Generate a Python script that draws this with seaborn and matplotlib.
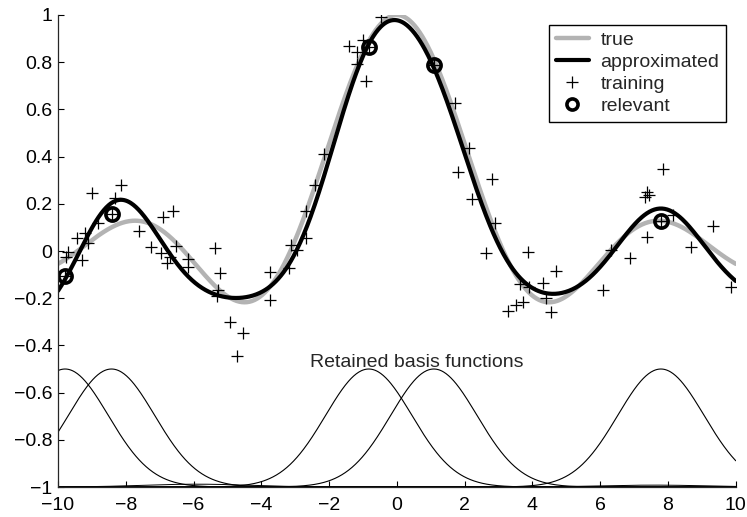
"""
RVM sinc regression - true vs approximated function, with retained basis functions
"""

import numpy as np
import pandas as pd
import matplotlib
matplotlib.use("Agg")
import matplotlib.pyplot as plt
from matplotlib.lines import Line2D
from matplotlib.ticker import FuncFormatter
import seaborn as sns

sns.set_style("ticks")
plt.rcParams.update({
    "font.family": ["Liberation Sans", "DejaVu Sans"],
    "font.size": 14,
    "xtick.direction": "in",
    "ytick.direction": "in",
    "xtick.major.size": 4,
    "ytick.major.size": 4,
    "xtick.major.pad": 7,
    "ytick.major.pad": 4,
    "axes.linewidth": 0.9,
})

# ── Training data ───────────────────────────────────────────
train_x = [-9.79, -9.76, -9.70, -9.45, -9.30, -9.20, -9.12, -9.01, -8.83, -8.42,
           -8.32, -8.15, -7.60, -7.26, -6.96, -6.89, -6.79, -6.70, -6.60, -6.53,
           -6.17, -6.17, -5.37, -5.32, -5.27, -5.22, -4.91, -4.71, -4.55, -3.75,
           -3.75, -3.18, -3.11, -2.94, -2.68, -2.68, -2.42, -2.15, -1.41, -1.17,
           -1.17, -1.01, -0.91, -0.83, -0.48, 1.09, 1.71, 1.81, 2.13, 2.23,
           2.63, 2.81, 2.89, 3.28, 3.51, 3.63, 3.73, 3.86, 3.90, 4.32,
           4.40, 4.56, 4.69, 6.09, 6.33, 6.87, 7.32, 7.38, 7.39, 7.44,
           7.79, 7.86, 8.15, 8.67, 9.33, 9.87]
train_y = [-0.106, -0.027, -0.003, 0.054, -0.038, 0.075, 0.035, 0.247, 0.117, 0.155,
           0.223, 0.280, 0.086, 0.016, -0.007, 0.145, -0.050, -0.027, 0.171, 0.021,
           -0.035, -0.066, 0.011, -0.190, -0.165, -0.095, -0.300, -0.443, -0.349, -0.088,
           -0.208, -0.073, 0.025, 0.004, 0.054, 0.170, 0.280, 0.411, 0.869, 0.792,
           0.845, 0.894, 0.720, 0.866, 0.993, 0.788, 0.628, 0.333, 0.435, 0.219,
           -0.010, 0.305, 0.120, -0.253, -0.229, -0.140, -0.217, -0.006, -0.154, -0.137,
           -0.200, -0.257, -0.085, -0.165, 0.005, -0.029, 0.230, 0.251, 0.061, 0.237,
           0.128, 0.346, 0.153, 0.018, 0.106, -0.151]

# ── Relevance vectors and model parameters ───────────────────
rv_x = [-9.79, -8.42, -0.83, 1.09, 7.79]
rv_y = [-0.106, 0.155, 0.866, 0.788, 0.128]
rv_w = [-0.204, 0.533, 0.862, 0.714, 0.395]
bias = -0.215
kernel_r2 = 3.25

# faint, almost flat basis functions near the bottom
faint_c = [-5.9, 7.6]
faint_a = [0.012, 0.008]
faint_r2 = [5.0, 5.0]

y_ticks = [-1, -0.8, -0.6, -0.4, -0.2, 0, 0.2, 0.4, 0.6, 0.8, 1]
x_ticks = [-10, -8, -6, -4, -2, 0, 2, 4, 6, 8, 10]

GRAY = "#b3b3b3"

xs = np.linspace(-10, 10, 801)


def kernel(x, c, r2):
    return np.exp(-(x - c) ** 2 / r2)


true_y = np.sinc(xs / np.pi)
approx_y = bias + sum(w * kernel(xs, c, kernel_r2) for w, c in zip(rv_w, rv_x))
curves = pd.DataFrame({"x": xs, "true": true_y, "approx": approx_y})

fig = plt.figure(figsize=(7.47, 5.17), dpi=100)
ax = fig.add_axes([0.0776, 0.058, 0.9074, 0.913])

# basis functions
for c in rv_x:
    sns.lineplot(x=xs, y=-1 + 0.5 * kernel(xs, c, kernel_r2), ax=ax,
                 color="black", linewidth=0.8)
for c, a, r2 in zip(faint_c, faint_a, faint_r2):
    sns.lineplot(x=xs, y=-1 + a * kernel(xs, c, r2), ax=ax,
                 color="black", linewidth=0.7)

sns.lineplot(data=curves, x="x", y="true", ax=ax, color=GRAY, linewidth=3.2)
sns.lineplot(data=curves, x="x", y="approx", ax=ax, color="black", linewidth=3.0)

ax.plot(train_x, train_y, linestyle="none", marker="+", color="black",
        markersize=9, markeredgewidth=0.9)
ax.plot(rv_x, rv_y, linestyle="none", marker="o", markerfacecolor="none",
        markeredgecolor="black", markersize=9.5, markeredgewidth=2.6)

ax.text(0.6, -0.49, "Retained basis functions", ha="center", va="baseline",
        fontsize=14)

ax.set_xlim(-10, 10)
ax.set_ylim(-1, 1)
ax.set_xticks(x_ticks)
ax.set_yticks(y_ticks)
fmt = FuncFormatter(lambda v, p: f"{v + 0.0:g}".replace("-", "\u2212") if abs(v) > 1e-9 else "0")
ax.xaxis.set_major_formatter(fmt)
ax.yaxis.set_major_formatter(fmt)
ax.set_xlabel("")
ax.set_ylabel("")
ax.tick_params(labelsize=14, colors="black")
sns.despine(ax=ax)

handles = [
    Line2D([], [], color=GRAY, linewidth=3.2),
    Line2D([], [], color="black", linewidth=3.0),
    Line2D([], [], linestyle="none", marker="+", color="black",
           markersize=9, markeredgewidth=0.9),
    Line2D([], [], linestyle="none", marker="o", markerfacecolor="none",
           markeredgecolor="black", markersize=8, markeredgewidth=2.6),
]
leg = ax.legend(handles, ["true", "approximated", "training", "relevant"],
                loc="upper right", fancybox=False, framealpha=1,
                edgecolor="black", borderaxespad=0.5, labelspacing=0.22,
                handlelength=1.7, handletextpad=0.6, borderpad=0.35,
                fontsize=14)
leg.get_frame().set_linewidth(1.0)

fig.savefig("out.png", dpi=100)
plt.close(fig)
